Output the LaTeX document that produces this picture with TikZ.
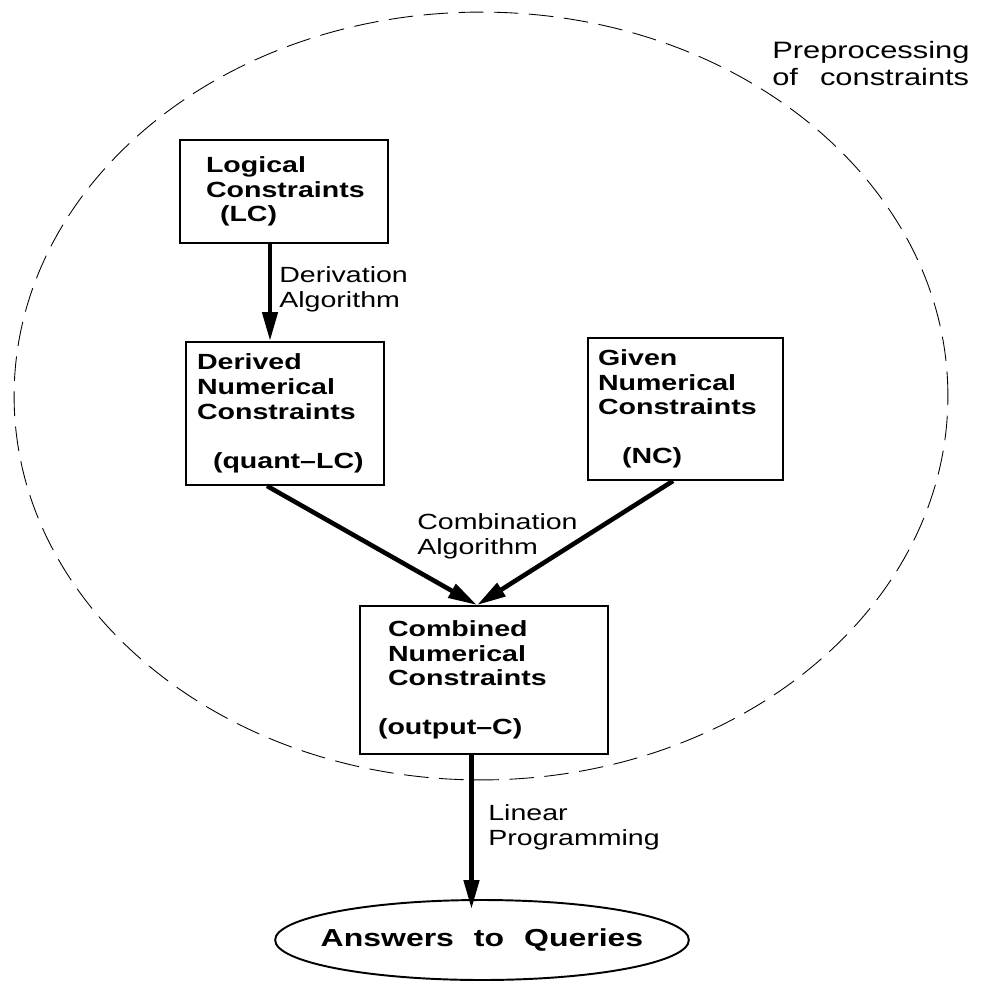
\documentclass[tikz,border=0pt]{standalone}
\usepackage{fontspec}
\setmainfont{Liberation Sans}[FakeStretch=1.3]
\usepackage{tikz}
\usetikzlibrary{shapes.geometric, arrows.meta}

\begin{document}
\begin{tikzpicture}[x=0.02cm, y=-0.02cm, >={Triangle[length=0.58cm, width=0.3cm]}]

\tikzstyle{block} = [draw, shape=rectangle, line width=1.1pt, align=left, inner ysep=0pt, font=\fontsize{12.5}{14}\selectfont\bfseries]
\tikzstyle{arrowtext} = [anchor=north west, inner sep=0pt, align=left, font=\fontsize{12.5}{14.5}\selectfont]
\tikzstyle{flow} = [->, line width=2.6pt]

\useasboundingbox (0,0) rectangle (982,985);

%Preprocessing region
\draw[dash pattern=on 14pt off 6pt, line width=0.5pt] (481,396) ellipse [x radius=9.34cm, y radius=7.68cm];
\node[arrowtext, font=\fontsize{13.5}{15.5}\selectfont] (pre) at (772,41) {Preprocessing\\of\hspace{0.44cm}constraints};

%Creating Blocks
\node[block, text width=3.12cm, inner xsep=0.52cm, minimum height=2.06cm] (lc) at (284,191.5) {Logical\\Constraints\\\hspace*{0.28cm}(LC)};
\node[block, text width=3.52cm, inner xsep=0.22cm, minimum height=2.86cm] (dnc) at (285,413.5) {Derived\\Numerical\\Constraints\\[14pt]\hspace*{0.32cm}(quant--LC)};
\node[block, text width=3.5cm, inner xsep=0.2cm, minimum height=2.84cm] (gnc) at (685.5,409) {Given\\Numerical\\Constraints\\[14pt]\hspace*{0.48cm}(NC)};
\node[block, text width=4.24cm, inner xsep=0.36cm, minimum height=2.96cm] (cnc) at (484,680) {\hspace*{0.2cm}Combined\\\hspace*{0.2cm}Numerical\\\hspace*{0.2cm}Constraints\\[14pt](output--C)};
\node[draw, ellipse, line width=1.1pt, minimum width=8.24cm, minimum height=1.6cm, inner xsep=-0.3cm, inner ysep=0pt, font=\fontsize{14}{16}\selectfont\bfseries] (ans) at (482,940) {Answers\hspace{0.4cm}to\hspace{0.4cm}Queries};

%Conecting Blocks
\draw[flow] ([xshift=-0.28cm]lc.south) -- ([xshift=-0.3cm]dnc.north);
\draw[flow] ([xshift=-0.36cm]dnc.south) -- ([xshift=-0.14cm]cnc.north);
\draw[flow] ([xshift=-0.25cm]gnc.south) -- ([xshift=-0.14cm]cnc.north);
\draw[flow] ([xshift=-0.25cm]cnc.south) -- ([xshift=-0.21cm, yshift=-0.2cm]ans.north);

%Arrow texts
\node[arrowtext] (derv) at (279,266) {Derivation\\Algorithm};
\node[arrowtext] (comb) at (417,513) {Combination\\Algorithm};
\node[arrowtext] (lp) at (488,804) {Linear\\Programming};

\end{tikzpicture}
\end{document}
